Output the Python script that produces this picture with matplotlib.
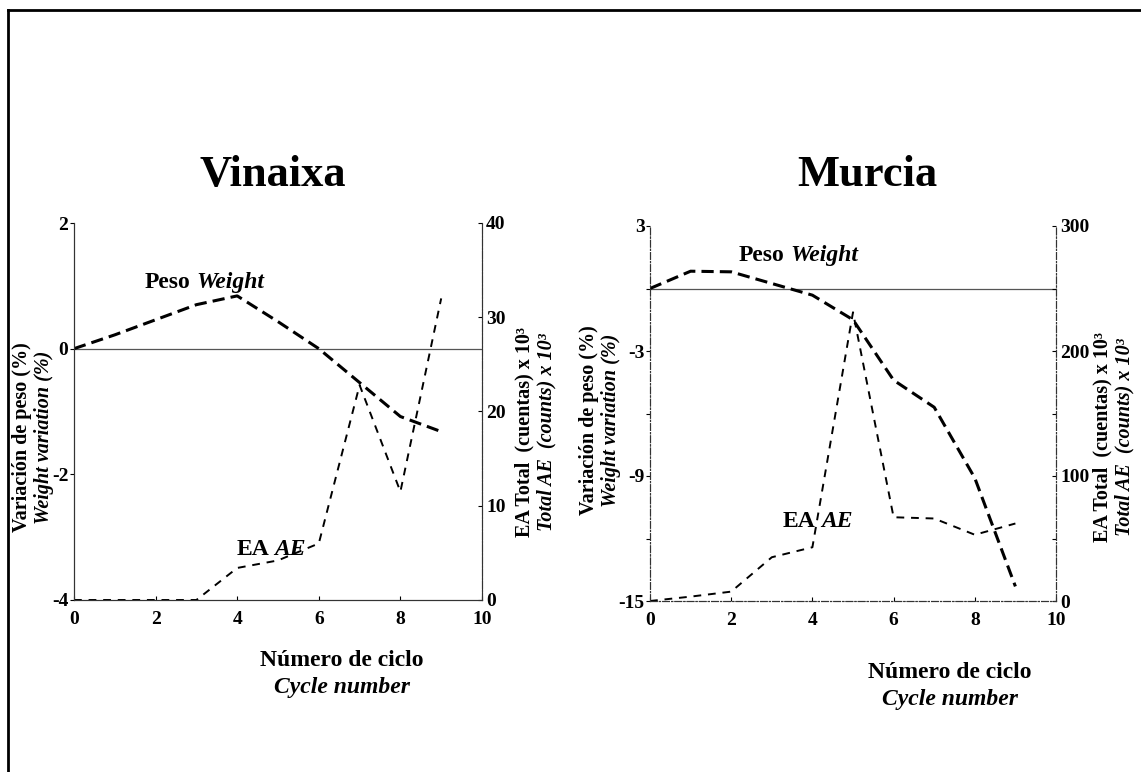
import matplotlib.pyplot as plt
from matplotlib.lines import Line2D
from matplotlib.ticker import MultipleLocator

plt.rcParams['font.family'] = ['Liberation Serif', 'DejaVu Serif']
plt.rcParams['font.weight'] = 'bold'
plt.rcParams['axes.unicode_minus'] = False

# data
cycles = [0, 1, 2, 3, 4, 5, 6, 7, 8, 9]
vinaixa_weight = [0, 0.22, 0.46, 0.70, 0.84, 0.43, 0.0, -0.54, -1.08, -1.32]
vinaixa_ae = [0, 0, 0, 0, 3.4, 4.2, 6.0, 22.8, 11.5, 32.0]
murcia_weight = [0, 0.83, 0.8, 0.24, -0.32, -1.5, -4.4, -5.7, -9.1, -14.3]
murcia_ae = [0, 3.5, 7.5, 35, 43, 231, 67, 66, 53, 62]

W, H = 1141, 772
fig = plt.figure(figsize=(W / 100, H / 100), dpi=100)


def fx(px):
    return px / W


def fy(py):
    return 1 - py / H


# outer frame (top and left edges only)
fig.add_artist(Line2D([fx(8), 1], [fy(10), fy(10)], transform=fig.transFigure, color="black", lw=2))
fig.add_artist(Line2D([fx(8), fx(8)], [fy(10), 0], transform=fig.transFigure, color="black", lw=2))

TICK = 14
LAB = 17
YLAB = 14.5
weight_style = dict(color="black", lw=2.2, linestyle=(0, (4, 2)))
ae_style = dict(color="black", lw=1.4, linestyle=(0, (4, 3.5)))


def panel(x0, x1, y0, y1, weight, ae, wlim, wmajor, wminor, alim, amajor, aminor, spine_ls):
    ax = fig.add_axes([fx(x0), fy(y1), fx(x1) - fx(x0), fy(y0) - fy(y1)])
    ax2 = ax.twinx()
    ax.set_xlim(0, 10)
    ax.set_ylim(*wlim)
    ax2.set_ylim(*alim)
    ax.axhline(0, color="#555555", lw=0.9, zorder=1)
    ax.plot(cycles, weight, **weight_style)
    ax2.plot(cycles, ae, **ae_style)

    ax.xaxis.set_major_locator(MultipleLocator(2))
    ax.yaxis.set_major_locator(MultipleLocator(wmajor))
    ax.yaxis.set_minor_locator(MultipleLocator(wminor))
    ax2.yaxis.set_major_locator(MultipleLocator(amajor))
    ax2.yaxis.set_minor_locator(MultipleLocator(aminor))
    for a in (ax, ax2):
        a.spines["top"].set_visible(False)
        for s in ("left", "right", "bottom"):
            a.spines[s].set_linewidth(0.8)
            a.spines[s].set_linestyle(spine_ls)
            a.spines[s].set_color("#333333")
        a.set_facecolor("none")
    ax.tick_params(axis="x", direction="in", length=3, width=0.8, pad=8, labelsize=TICK)
    ax.tick_params(axis="y", which="both", direction="out", length=3, width=0.8, pad=1, labelsize=TICK)
    ax2.tick_params(axis="y", which="both", direction="in", length=3, width=0.8, pad=3, labelsize=TICK)
    return ax, ax2


def two_style(ax, x, y, plain, ital):
    t = ax.text(x, y, plain, fontsize=LAB, fontweight="bold", va="baseline", ha="left")
    ax.annotate(ital, xy=(1, 0), xycoords=t, xytext=(4, 0), textcoords="offset points",
                fontsize=LAB, fontweight="bold", style="italic", va="bottom", ha="left")


# Vinaixa
axL, axL2 = panel(74, 482, 223, 600, vinaixa_weight, vinaixa_ae,
                  (-4, 2), 2, 2, (0, 40), 10, 10, "-")
axL2.spines["right"].set_linestyle((0, (6, 2, 1, 2)))
two_style(axL, 1.74, 0.97, "Peso", "Weight")
two_style(axL, 3.98, -3.28, "EA", "AE")
fig.text(fx(273), fy(175), "Vinaixa", fontsize=32, fontweight="bold", ha="center", va="center")

# Murcia
axR, axR2 = panel(650, 1056, 226, 601, murcia_weight, murcia_ae,
                  (-15, 3), 6, 3, (0, 300), 100, 50, (0, (6, 2, 1, 2)))
axR.set_yticks([3, -3, -9, -15])
two_style(axR, 2.19, 1.34, "Peso", "Weight")
two_style(axR, 3.27, -11.47, "EA", "AE")
fig.text(fx(867), fy(175), "Murcia", fontsize=32, fontweight="bold", ha="center", va="center")

# axis titles
for cx, cy1, cy2 in ((342, 660, 687), (950, 672, 700)):
    fig.text(fx(cx), fy(cy1), "Número de ciclo", fontsize=LAB, fontweight="bold", ha="center", va="center")
    fig.text(fx(cx), fy(cy2), "Cycle number", fontsize=LAB, fontweight="bold", style="italic",
             ha="center", va="center")

for x1, x2, cy in ((22, 44, 437), (589, 611, 420)):
    fig.text(fx(x1), fy(cy), "Variación de peso (%)", fontsize=YLAB, fontweight="bold",
             rotation=90, ha="center", va="center")
    fig.text(fx(x2), fy(cy), "Weight variation (%)", fontsize=YLAB, fontweight="bold", style="italic",
             rotation=90, ha="center", va="center")

for x1, x2, cy in ((524, 546, 432), (1102, 1124, 437)):
    fig.text(fx(x1), fy(cy), "EA Total  (cuentas) x 10³", fontsize=YLAB, fontweight="bold",
             rotation=90, ha="center", va="center")
    fig.text(fx(x2), fy(cy), "Total AE  (counts) x 10³", fontsize=YLAB, fontweight="bold", style="italic",
             rotation=90, ha="center", va="center")

fig.savefig("out.png", dpi=100)
